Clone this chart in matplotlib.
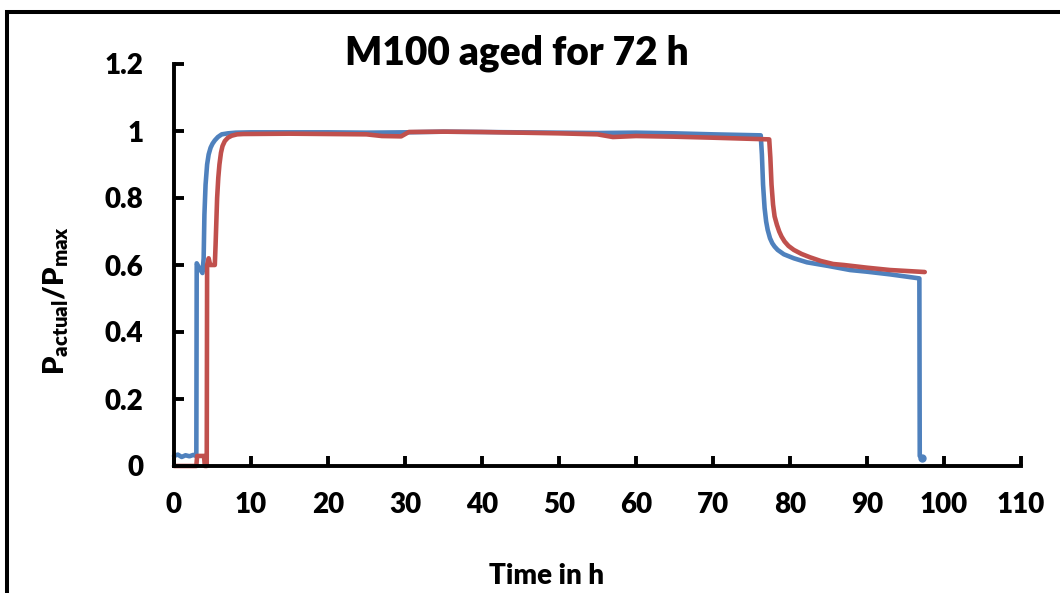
import matplotlib
matplotlib.use("Agg")
import matplotlib.pyplot as plt
from matplotlib.patches import Rectangle

plt.rcParams['font.family'] = ['Lato', 'DejaVu Sans']
plt.rcParams['font.weight'] = 'heavy'
plt.rcParams['axes.labelweight'] = 'heavy'
plt.rcParams['mathtext.fontset'] = 'custom'
plt.rcParams['mathtext.rm'] = 'Lato:heavy'
plt.rcParams['mathtext.it'] = 'Lato:heavy'
plt.rcParams['mathtext.bf'] = 'Lato:heavy'

t_blue = [0, 0.5, 1, 1.5, 2, 2.5, 2.9, 2.95, 3.3, 3.7, 3.85, 3.95, 4.1, 4.3, 4.5, 4.75, 5.0, 5.3, 5.7, 6.2, 7, 8,
          10, 15, 20, 25, 30, 35, 40, 45, 50, 55, 60, 65, 70, 76.2,
          76.35, 76.5, 76.7, 76.9, 77.1, 77.4, 77.7, 78.0, 78.4, 79.2, 80.5, 82.2, 85, 87.8, 90, 93, 96.8,
          96.85, 97.1]
p_blue = [0.03, 0.034, 0.027, 0.032, 0.029, 0.033, 0.03, 0.605, 0.59, 0.576, 0.62, 0.75, 0.84, 0.9, 0.93, 0.95, 0.962, 0.972, 0.982, 0.99, 0.993, 0.995,
          0.996, 0.996, 0.996, 0.995, 0.996, 0.998, 0.997, 0.996, 0.995, 0.994, 0.995, 0.993, 0.99, 0.987,
          0.93, 0.84, 0.77, 0.73, 0.705, 0.68, 0.665, 0.655, 0.645, 0.632, 0.62, 0.608, 0.597, 0.585, 0.58, 0.572, 0.56,
          0.03, 0.025]

t_red = [0, 2.9, 3.0, 3.9, 4.0, 4.25, 4.3, 4.5, 4.7, 5.3, 5.4, 5.5, 5.6, 5.75, 5.9, 6.1, 6.3, 6.6, 7.0, 7.5, 8.2, 9,
         15, 20, 25, 27, 29.5, 30.5, 35, 40, 45, 50, 55, 57, 60, 65, 70, 77.3,
         77.45, 77.6, 77.8, 78.0, 78.3, 78.6, 78.9, 79.3, 79.8, 80.5, 81.5, 82.6, 84, 85.6, 87, 90, 93, 97.5]
p_red = [0, 0, 0.03, 0.03, 0.0, 0.0, 0.6, 0.62, 0.6, 0.6, 0.66, 0.73, 0.8, 0.86, 0.9, 0.935, 0.955, 0.97, 0.98, 0.986, 0.99, 0.991,
         0.992, 0.991, 0.99, 0.985, 0.984, 0.997, 0.998, 0.997, 0.995, 0.993, 0.99, 0.982, 0.985, 0.983, 0.98, 0.975,
         0.92, 0.84, 0.78, 0.745, 0.72, 0.7, 0.685, 0.67, 0.657, 0.645, 0.633, 0.623, 0.612, 0.603, 0.6, 0.592, 0.585, 0.579]

x_ticks = list(range(0, 111, 10))
y_ticks = [0, 0.2, 0.4, 0.6, 0.8, 1, 1.2]
y_tick_labels = ['0', '0.2', '0.4', '0.6', '0.8', '1', '1.2']

fig = plt.figure(figsize=(10.6, 5.93), dpi=100)
ax = fig.add_axes([174/1060, 127/593, 847/1060, 402/593])

ax.plot(t_blue, p_blue, color='#4F81BD', lw=3.3, solid_capstyle='round', solid_joinstyle='round', clip_on=False)
ax.plot(t_blue[-1], p_blue[-1], 'o', color='#4F81BD', ms=5, clip_on=False)
ax.plot(t_red, p_red, color='#C0504D', lw=3.3, solid_capstyle='round', solid_joinstyle='round', clip_on=False)

ax.set_xlim(0, 110)
ax.set_ylim(0, 1.2)
ax.set_xticks(x_ticks)
ax.set_yticks(y_ticks)
ax.set_yticklabels(y_tick_labels)
ax.spines['top'].set_visible(False)
ax.spines['right'].set_visible(False)
for s in ['left', 'bottom']:
    ax.spines[s].set_linewidth(2.8)
ax.tick_params(direction='in', length=7, width=2.8, labelsize=20, pad=19)
ax.tick_params(axis='y', pad=22)

ax.set_xlabel('Time in h', fontsize=20)
ax.xaxis.set_label_coords(0.44, -0.241)
ax.set_ylabel(r'$\mathrm{P_{actual}/P_{max}}$', fontsize=21)
ax.yaxis.set_label_coords(-0.122, 0.413)

ax.text(0.405, 1.027, 'M100 aged for 72 h', transform=ax.transAxes,
        ha='center', va='center', fontsize=28)

# Rahmen um das Diagramm
fig.patches.append(Rectangle((7/1060, -0.2), 2, 0.2 + (593 - 11.5)/593, transform=fig.transFigure,
                             fill=False, edgecolor='black', lw=2.9, clip_on=False))

fig.savefig('out.png', dpi=100)
